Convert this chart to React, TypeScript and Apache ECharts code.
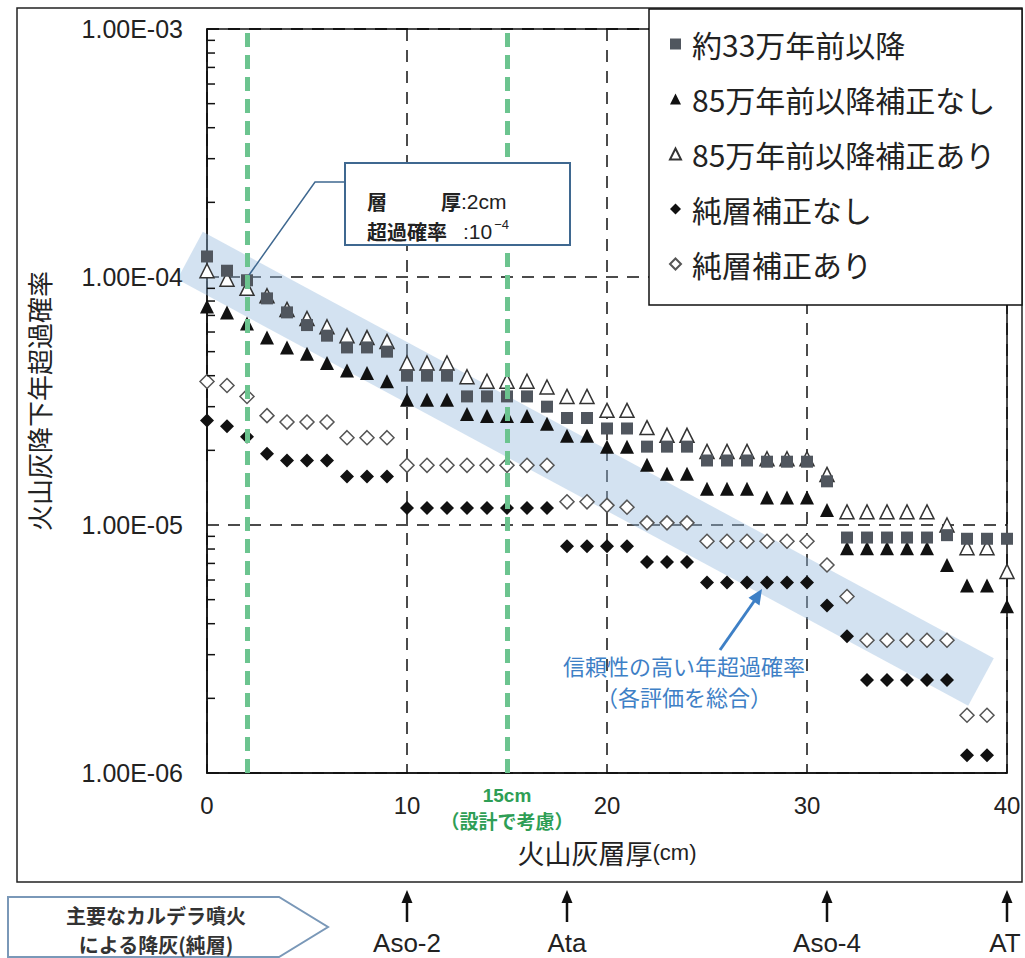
import React, { useEffect, useRef } from "react";
import * as echarts from "echarts";

// ---- data ----
const thicknessCm = [0, 1, 2, 3, 4, 5, 6, 7, 8, 9, 10, 11, 12, 13, 14, 15, 16, 17, 18, 19, 20, 21, 22, 23, 24, 25, 26, 27, 28, 29, 30, 31, 32, 33, 34, 35, 36, 37, 38, 39, 40];

const seriesNames = ["約33万年前以降", "85万年前以降補正なし", "85万年前以降補正あり", "純層補正なし", "純層補正あり"];

const since33 = [
  1.21e-4, 1.06e-4, 9.7e-5, 8.2e-5, 7.2e-5, 6.4e-5, 5.8e-5, 5.2e-5, 5.2e-5, 5.0e-5,
  4.0e-5, 4.0e-5, 4.0e-5, 3.3e-5, 3.3e-5, 3.3e-5, 3.3e-5, 3.0e-5, 2.7e-5, 2.7e-5,
  2.45e-5, 2.45e-5, 2.07e-5, 2.07e-5, 2.07e-5, 1.82e-5, 1.82e-5, 1.82e-5, 1.8e-5, 1.8e-5,
  1.8e-5, 1.5e-5, 8.9e-6, 8.9e-6, 8.9e-6, 8.9e-6, 8.9e-6, 9.1e-6, 8.8e-6, 8.8e-6, 8.8e-6,
];
const since85Raw = [
  7.6e-5, 7.2e-5, 6.5e-5, 5.7e-5, 5.2e-5, 4.9e-5, 4.5e-5, 4.2e-5, 4.1e-5, 3.8e-5,
  3.2e-5, 3.2e-5, 3.2e-5, 2.8e-5, 2.75e-5, 2.75e-5, 2.75e-5, 2.56e-5, 2.29e-5, 2.29e-5,
  2.07e-5, 2.07e-5, 1.75e-5, 1.61e-5, 1.61e-5, 1.4e-5, 1.4e-5, 1.4e-5, 1.29e-5, 1.29e-5,
  1.29e-5, 1.15e-5, 8.05e-6, 8.05e-6, 8.05e-6, 8.05e-6, 8.05e-6, 6.9e-6, 5.7e-6, 5.7e-6, 4.7e-6,
];
const since85Corr = [
  1.06e-4, 9.8e-5, 9.0e-5, 8.4e-5, 7.4e-5, 6.8e-5, 6.3e-5, 5.8e-5, 5.7e-5, 5.5e-5,
  4.5e-5, 4.5e-5, 4.5e-5, 3.96e-5, 3.8e-5, 3.8e-5, 3.8e-5, 3.6e-5, 3.3e-5, 3.3e-5,
  2.9e-5, 2.9e-5, 2.47e-5, 2.3e-5, 2.3e-5, 1.98e-5, 1.98e-5, 1.98e-5, 1.85e-5, 1.85e-5,
  1.85e-5, 1.6e-5, 1.13e-5, 1.13e-5, 1.13e-5, 1.13e-5, 1.13e-5, 1.0e-5, 8.1e-6, 8.1e-6, 6.5e-6,
];
const pureRaw = [
  2.64e-5, 2.5e-5, 2.27e-5, 1.94e-5, 1.82e-5, 1.82e-5, 1.82e-5, 1.57e-5, 1.57e-5, 1.57e-5,
  1.17e-5, 1.17e-5, 1.17e-5, 1.17e-5, 1.17e-5, 1.17e-5, 1.17e-5, 1.17e-5, 8.2e-6, 8.2e-6,
  8.2e-6, 8.2e-6, 7.1e-6, 7.1e-6, 7.1e-6, 5.87e-6, 5.87e-6, 5.87e-6, 5.87e-6, 5.87e-6,
  5.87e-6, 4.74e-6, 3.56e-6, 2.37e-6, 2.37e-6, 2.37e-6, 2.37e-6, 2.37e-6, 1.18e-6, 1.18e-6,
];
const pureCorr = [
  3.79e-5, 3.65e-5, 3.3e-5, 2.76e-5, 2.6e-5, 2.6e-5, 2.6e-5, 2.25e-5, 2.25e-5, 2.25e-5,
  1.74e-5, 1.74e-5, 1.74e-5, 1.74e-5, 1.74e-5, 1.74e-5, 1.74e-5, 1.74e-5, 1.24e-5, 1.24e-5,
  1.2e-5, 1.18e-5, 1.02e-5, 1.02e-5, 1.02e-5, 8.6e-6, 8.6e-6, 8.6e-6, 8.6e-6, 8.6e-6,
  8.6e-6, 6.9e-6, 5.15e-6, 3.43e-6, 3.43e-6, 3.43e-6, 3.43e-6, 3.43e-6, 1.71e-6, 1.71e-6,
];

// reliable band (centre line end points)
const bandX = [-0.85, 38.7];
const bandY = [1.22e-4, 2.33e-6];

// design thickness marks
const greenLinesX = [2, 15];

// y minor tick values
const yMinorTicks = [
  2e-6, 3e-6, 4e-6, 5e-6, 6e-6, 7e-6, 8e-6, 9e-6,
  2e-5, 3e-5, 4e-5, 5e-5, 6e-5, 7e-5, 8e-5, 9e-5,
  2e-4, 3e-4, 4e-4, 5e-4, 6e-4, 7e-4, 8e-4, 9e-4,
];

// caldera eruptions
const eruptionNames = ["Aso-2", "Ata", "Aso-4", "AT"];
const eruptionX = [10, 18, 31, 40];

const CJK = '"Noto Sans CJK JP", "Noto Sans CJK SC", sans-serif';
const LAT = '"Liberation Sans", Arial, sans-serif';

const pairs = (arr: number[]) => arr.map((v, i) => [thicknessCm[i], v]);

export default function App() {
  const ref = useRef<HTMLDivElement>(null);

  useEffect(() => {
    if (!ref.current) return;
    const chart = echarts.init(ref.current, null, { renderer: "svg" });

    const option: any = {
      animation: false,
      backgroundColor: "#ffffff",
      textStyle: { fontFamily: CJK },
      grid: {
        left: 207,
        right: 18,
        top: 29,
        bottom: 185,
        show: true,
        borderColor: "#111",
        borderWidth: 1.5,
        backgroundColor: "transparent",
      },
      legend: {
        data: seriesNames,
        orient: "vertical",
        left: 664,
        top: 24,
        itemGap: 25,
        itemWidth: 11,
        itemHeight: 11,
        selectedMode: false,
        z: 10,
        textStyle: {
          fontSize: 30,
          lineHeight: 30,
          color: "#222",
          fontFamily: CJK,
          padding: [0, 0, 0, 6],
        },
      },
      xAxis: {
        type: "value",
        min: 0,
        max: 40,
        interval: 10,
        axisLine: { show: true, onZero: false, lineStyle: { color: "#111", width: 1.5 } },
        axisTick: { show: false },
        axisLabel: { fontSize: 24, color: "#222", fontFamily: LAT, margin: 20 },
        splitLine: { show: true, lineStyle: { color: "#111", width: 1.5, type: [12, 9] } },
        name: "{a|火山灰層厚}{b|(cm)}",
        nameLocation: "middle",
        nameGap: 66,
        nameTextStyle: {
          rich: {
            a: { fontSize: 27, color: "#222", fontFamily: CJK },
            b: { fontSize: 22, color: "#222", fontFamily: LAT },
          },
        },
      },
      yAxis: {
        type: "log",
        logBase: 10,
        min: 1e-6,
        max: 1e-3,
        axisLine: { show: true, lineStyle: { color: "#111", width: 1.5 } },
        axisTick: { show: false },
        axisLabel: {
          fontSize: 25,
          color: "#222",
          fontFamily: LAT,
          margin: 24,
          formatter: (v: number) => {
            const e = Math.round(Math.log10(v));
            return "1.00E-" + String(-e).padStart(2, "0");
          },
        },
        splitLine: { show: true, lineStyle: { color: "#111", width: 1.5, type: [12, 9] } },
        name: "火山灰降下年超過確率",
        nameLocation: "middle",
        nameRotate: 90,
        nameGap: 156,
        nameTextStyle: { fontSize: 26, color: "#222", fontFamily: CJK },
      },
      series: [
        {
          name: "band",
          type: "line",
          data: bandX.map((x, i) => [x, bandY[i]]),
          symbol: "none",
          clip: false,
          silent: true,
          z: 1,
          lineStyle: { width: 54, color: "rgba(150,185,222,0.42)", cap: "butt" },
          markLine: {
            silent: true,
            symbol: ["none", "none"],
            label: { show: false },
            lineStyle: { color: "#6cc48f", width: 5, type: [14, 8] },
            data: greenLinesX.map((x) => ({ xAxis: x })),
          },
        },
        {
          name: seriesNames[2],
          type: "scatter",
          symbol: "triangle",
          symbolSize: 14,
          data: pairs(since85Corr),
          itemStyle: { color: "#ffffff", borderColor: "#333", borderWidth: 1.5, opacity: 1 },
          z: 2,
        },
        {
          name: seriesNames[1],
          type: "scatter",
          symbol: "triangle",
          symbolSize: 14,
          data: pairs(since85Raw),
          itemStyle: { color: "#111", opacity: 1 },
          z: 2,
        },
        {
          name: seriesNames[0],
          type: "scatter",
          symbol: "rect",
          symbolSize: 12,
          data: pairs(since33),
          itemStyle: { color: "#50565e", opacity: 1 },
          z: 2,
        },
        {
          name: seriesNames[4],
          type: "scatter",
          symbol: "diamond",
          symbolSize: 14,
          data: pairs(pureCorr),
          itemStyle: { color: "#ffffff", borderColor: "#555", borderWidth: 1.5, opacity: 1 },
          z: 2,
        },
        {
          name: seriesNames[3],
          type: "scatter",
          symbol: "diamond",
          symbolSize: 14,
          data: pairs(pureRaw),
          itemStyle: { color: "#111", opacity: 1 },
          z: 2,
        },
        {
          name: "minorTicks",
          type: "custom",
          silent: true,
          z: 3,
          data: yMinorTicks.map((v) => [0, v]),
          renderItem: (params: any, api: any) => {
            const p = api.coord([0, api.value(1)]);
            return {
              type: "line",
              shape: { x1: p[0], y1: p[1], x2: p[0] + 8, y2: p[1] },
              style: { stroke: "#111", lineWidth: 1.5 },
            };
          },
        },
      ],
    };

    chart.setOption(option);

    const toPx = (x: number, y: number) => chart.convertToPixel({ gridIndex: 0 }, [x, y]) as number[];

    const blue = "#3f6890";
    const noteBlue = "#3e80c6";
    const green = "#2e9e55";
    const elements: any[] = [];

    // outer frame
    elements.push({
      type: "rect",
      z: 1,
      silent: true,
      shape: { x: 17, y: 8, width: 1005, height: 874 },
      style: { fill: "none", stroke: "#222", lineWidth: 1.5 },
    });
    // legend box
    elements.push({
      type: "rect",
      z: 3,
      silent: true,
      shape: { x: 649, y: 9, width: 373, height: 296 },
      style: { fill: "#fff", stroke: "#111", lineWidth: 1.5 },
    });

    // callout
    const p2 = toPx(greenLinesX[0], 1e-4);
    elements.push({
      type: "polyline",
      z: 19,
      silent: true,
      shape: { points: [[p2[0] + 2, p2[1] - 2], [315, 182], [345, 182]] },
      style: { stroke: blue, lineWidth: 1.5, fill: "none" },
    });
    elements.push({
      type: "rect",
      z: 20,
      silent: true,
      shape: { x: 345, y: 163, width: 225, height: 82 },
      style: { fill: "#fff", stroke: blue, lineWidth: 2 },
    });
    elements.push({
      type: "text",
      z: 21,
      silent: true,
      x: 367,
      y: 186,
      style: {
        text: "{w|層}{c|厚}{l|:2cm}\n{q|超過確率}{l|:10}{s|−4}",
        fill: "#222",
        align: "left",
        verticalAlign: "top",
        rich: {
          w: { width: 74, fontSize: 20, fontWeight: "bold", fontFamily: CJK, lineHeight: 30, fill: "#222" },
          c: { fontSize: 20, fontWeight: "bold", fontFamily: CJK, lineHeight: 30, fill: "#222" },
          q: { width: 96, fontSize: 20, fontWeight: "bold", fontFamily: CJK, lineHeight: 30, fill: "#222" },
          l: { fontSize: 21, fontFamily: LAT, lineHeight: 30, fill: "#222" },
          s: { fontSize: 13, fontFamily: LAT, lineHeight: 30, verticalAlign: "top", padding: [2, 0, 0, 2], fill: "#222" },
        },
      },
    });

    // reliable band note
    elements.push({
      type: "text",
      z: 21,
      silent: true,
      x: 684,
      y: 649,
      style: {
        text: "信頼性の高い年超過確率\n（各評価を総合）",
        fill: noteBlue,
        font: `normal 22px ${CJK}`,
        lineHeight: 31,
        align: "center",
        verticalAlign: "top",
      },
    });
    elements.push({
      type: "line",
      z: 21,
      silent: true,
      shape: { x1: 720, y1: 650, x2: 755, y2: 600 },
      style: { stroke: noteBlue, lineWidth: 3 },
    });
    elements.push({
      type: "polygon",
      z: 21,
      silent: true,
      shape: { points: [[762, 589], [759.5, 605.5], [748.5, 597.8]] },
      style: { fill: noteBlue },
    });

    // green 15cm text
    const p15 = toPx(greenLinesX[1], 1e-6);
    elements.push({
      type: "text",
      z: 21,
      silent: true,
      x: p15[0],
      y: 783,
      style: {
        text: "{a|15cm}\n{b|（設計で考慮）}",
        align: "center",
        verticalAlign: "top",
        rich: {
          a: { fontSize: 19, fontWeight: "bold", fontFamily: LAT, lineHeight: 25, fill: green, align: "center" },
          b: { fontSize: 19, fontWeight: "bold", fontFamily: CJK, lineHeight: 25, fill: green, align: "center" },
        },
      },
    });

    // pentagon label
    elements.push({
      type: "polygon",
      z: 5,
      silent: true,
      shape: { points: [[8, 897], [279, 897], [328, 927], [279, 957], [8, 957]] },
      style: { fill: "#fff", stroke: "#7a98b8", lineWidth: 2 },
    });
    elements.push({
      type: "text",
      z: 6,
      silent: true,
      x: 156,
      y: 901,
      style: {
        text: "主要なカルデラ噴火\nによる降灰(純層)",
        fill: "#333",
        font: `bold 20px ${CJK}`,
        lineHeight: 29,
        align: "center",
        verticalAlign: "top",
      },
    });

    // eruption arrows
    eruptionX.forEach((ex, i) => {
      const p = toPx(ex, 1e-6);
      const x = p[0];
      elements.push({
        type: "line",
        z: 6,
        silent: true,
        shape: { x1: x, y1: 900, x2: x, y2: 922 },
        style: { stroke: "#111", lineWidth: 2.5 },
      });
      elements.push({
        type: "polygon",
        z: 6,
        silent: true,
        shape: { points: [[x, 890], [x - 5.5, 903], [x + 5.5, 903]] },
        style: { fill: "#111" },
      });
      elements.push({
        type: "text",
        z: 6,
        silent: true,
        x: i === eruptionX.length - 1 ? x - 2 : x,
        y: 943,
        style: {
          text: eruptionNames[i],
          fill: "#222",
          font: `normal 26px "Liberation Sans Narrow", ${LAT}`,
          align: "center",
          verticalAlign: "middle",
        },
      });
    });

    chart.setOption({ graphic: { elements } });

    return () => chart.dispose();
  }, []);

  return (
    <div
      ref={ref}
      style={{ position: "absolute", left: 0, top: 0, width: 1025, height: 958, background: "#fff" }}
    />
  );
}
